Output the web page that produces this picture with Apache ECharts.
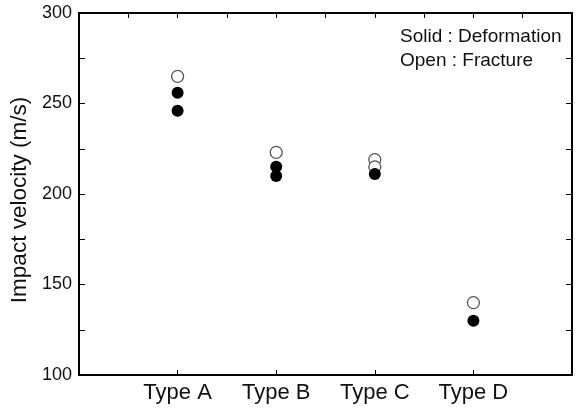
<!DOCTYPE html>
<html><head><meta charset="utf-8">
<script src="https://cdn.jsdelivr.net/npm/echarts@6/dist/echarts.min.js"></script>
<style>html,body{margin:0;padding:0;background:#fff}#c{width:580px;height:408px}</style>
</head><body><div id="c"></div>
<script>
var categories = ['', 'Type A', 'Type B', 'Type C', 'Type D', ''];
var solidCats = ['Type A', 'Type A', 'Type B', 'Type B', 'Type C', 'Type D'];
var solidVals = [256, 246, 215, 210, 211, 130];
var openCats = ['Type A', 'Type B', 'Type C', 'Type C', 'Type D'];
var openVals = [265, 223, 219, 215, 140];
var yTicks = [100, 150, 200, 250, 300];
var yName = 'Impact velocity (m/s)';
var noteLines = ['Solid : Deformation', 'Open : Fracture'];

var FONT = 'Liberation Sans, Arial, sans-serif';
var chart = echarts.init(document.getElementById('c'), null, {renderer: 'canvas'});
var line = {show: true, lineStyle: {color: '#000', width: 2}};
chart.setOption({
  animation: false,
  grid: {left: 79, right: 8, top: 13, bottom: 33, containLabel: false},
  xAxis: [{
    type: 'category', data: categories, boundaryGap: false, position: 'bottom',
    axisLine: line, axisTick: {show: true, inside: true, length: 5, lineStyle: {color: '#000', width: 1}},
    axisLabel: {color: '#111', fontSize: 22, fontFamily: FONT, margin: 7},
    splitLine: {show: false}
  }, {
    type: 'value', min: 0, max: 10, interval: 1, position: 'top',
    axisLine: line, axisTick: {show: true, inside: true, length: 5, lineStyle: {color: '#000', width: 1}},
    axisLabel: {show: false}, splitLine: {show: false}
  }],
  yAxis: [{
    type: 'value', min: 100, max: 300, interval: 25, position: 'left',
    name: yName, nameLocation: 'middle', nameGap: 46,
    nameTextStyle: {color: '#111', fontSize: 22.5, fontFamily: FONT, padding: [0, 12, 0, 0]},
    axisLine: line, axisTick: {show: true, inside: true, length: 6, lineStyle: {color: '#000', width: 1}},
    axisLabel: {color: '#111', fontSize: 18, fontFamily: FONT, margin: 7,
      formatter: function (v) { return yTicks.indexOf(v) >= 0 ? String(v) : ''; }},
    splitLine: {show: false}
  }, {
    type: 'value', min: 100, max: 300, interval: 25, position: 'right',
    axisLine: line, axisTick: {show: true, inside: true, length: 6, lineStyle: {color: '#000', width: 1}},
    axisLabel: {show: false}, splitLine: {show: false}
  }],
  graphic: noteLines.map(function (t, i) {
    return {type: 'text', left: 400, top: 27 + i * 24,
      style: {text: t, fill: '#111', font: '19px ' + FONT}};
  }),
  series: [{
    type: 'scatter', xAxisIndex: 0, yAxisIndex: 0, symbol: 'circle', symbolSize: 12,
    itemStyle: {color: '#fff', borderColor: '#555', borderWidth: 1.3, opacity: 1},
    data: openCats.map(function (c, i) { return [c, openVals[i]]; })
  }, {
    type: 'scatter', xAxisIndex: 0, yAxisIndex: 0, symbol: 'circle', symbolSize: 12,
    itemStyle: {color: '#000', opacity: 1},
    data: solidCats.map(function (c, i) { return [c, solidVals[i]]; })
  }]
});
</script></body></html>
